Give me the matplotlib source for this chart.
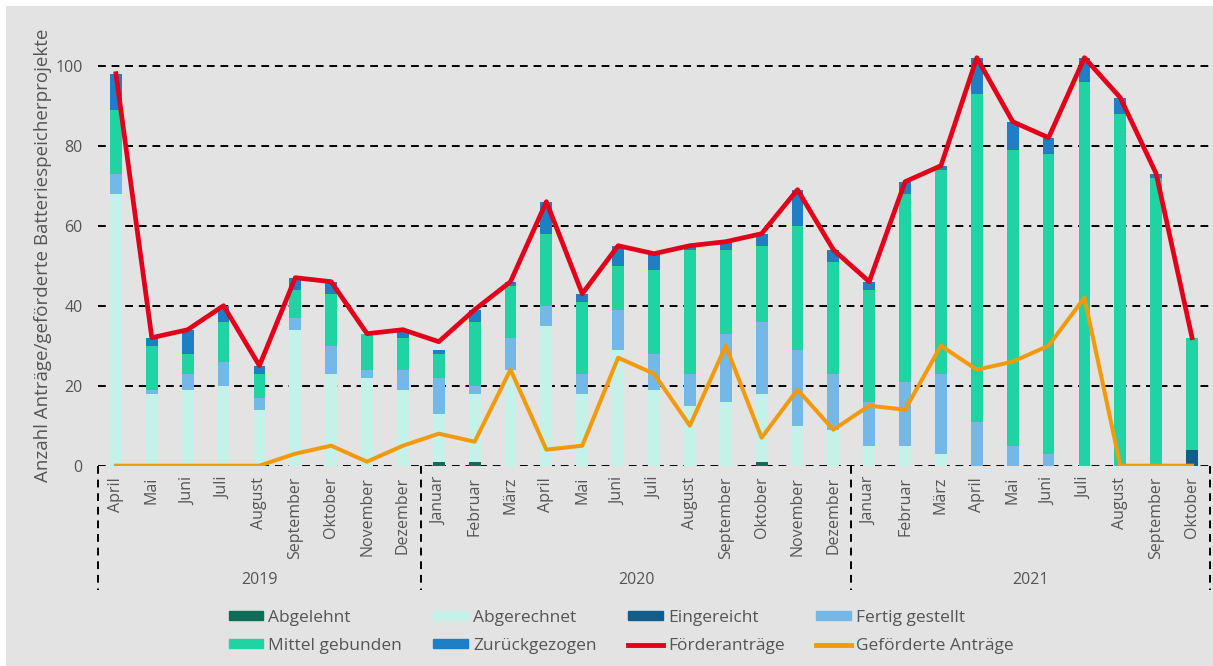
import matplotlib
matplotlib.use("Agg")
import matplotlib.pyplot as plt
from matplotlib.lines import Line2D
from matplotlib.patches import Patch, Rectangle
import numpy as np

plt.rcParams["font.family"] = ["Open Sans", "DejaVu Sans"]

months = ["April", "Mai", "Juni", "Juli", "August", "September", "Oktober", "November", "Dezember",
          "Januar", "Februar", "März", "April", "Mai", "Juni", "Juli", "August", "September",
          "Oktober", "November", "Dezember",
          "Januar", "Februar", "März", "April", "Mai", "Juni", "Juli", "August", "September", "Oktober"]
years = ["2019", "2020", "2021"]
year_counts = [9, 12, 10]

abgelehnt = [0, 0, 0, 0, 0, 0, 0, 0, 0,
             1, 1, 0, 0, 0, 0, 0, 0, 0, 1, 0, 0,
             0, 0, 0, 0, 0, 0, 0, 0, 0, 0]
abgerechnet = [68, 18, 19, 20, 14, 34, 23, 22, 19,
               12, 17, 24, 35, 18, 29, 19, 15, 16, 17, 10, 9,
               5, 5, 3, 0, 0, 0, 0, 0, 0, 0]
eingereicht = [0, 0, 0, 0, 0, 0, 0, 0, 0,
               0, 0, 0, 0, 0, 0, 0, 0, 0, 0, 0, 0,
               0, 0, 0, 0, 0, 0, 0, 0, 0, 4]
fertig_gestellt = [5, 1, 4, 6, 3, 3, 7, 2, 5,
                   9, 2, 8, 5, 5, 10, 9, 8, 17, 18, 19, 14,
                   11, 16, 20, 11, 5, 3, 0, 0, 0, 0]
mittel_gebunden = [16, 11, 5, 10, 6, 7, 13, 9, 8,
                   6, 16, 13, 18, 18, 11, 21, 31, 21, 19, 31, 28,
                   28, 47, 51, 82, 74, 75, 96, 88, 72, 28]
zurueckgezogen = [9, 2, 6, 4, 2, 3, 3, 0, 2,
                  1, 3, 1, 8, 2, 5, 4, 1, 2, 3, 9, 3,
                  2, 3, 1, 9, 7, 4, 6, 4, 1, 0]
foerderantraege = [98, 32, 34, 40, 25, 47, 46, 33, 34,
                   31, 39, 46, 66, 43, 55, 53, 55, 56, 58, 69, 54,
                   46, 71, 75, 102, 86, 82, 102, 92, 73, 32]
gefoerdert = [0, 0, 0, 0, 0, 3, 5, 1, 5,
              8, 6, 24, 4, 5, 27, 23, 10, 30, 7, 19, 9,
              15, 14, 30, 24, 26, 30, 42, 0, 0, 0]

stacks = [
    ("Abgelehnt", abgelehnt, "#0f6d55"),
    ("Abgerechnet", abgerechnet, "#c4f2e8"),
    ("Eingereicht", eingereicht, "#135d8a"),
    ("Fertig gestellt", fertig_gestellt, "#74b8e7"),
    ("Mittel gebunden", mittel_gebunden, "#1fd3a3"),
    ("Zurückgezogen", zurueckgezogen, "#1f7fc5"),
]
red = "#e2001a"
orange = "#f39a0c"
bg = "#e3e3e3"
text_col = "#555555"

W, H = 1213, 666
fig = plt.figure(figsize=(W / 100, H / 100), dpi=100, facecolor="white")
fig.patches.append(Rectangle((6 / W, 0), 1, 1 - 6 / H, transform=fig.transFigure,
                             facecolor=bg, edgecolor="none", zorder=-10))

y0_px, ymax = 465.7, 108
ax = fig.add_axes([98 / W, (H - y0_px) / H, (1210 - 98) / W, ymax * 4 / H])
ax.set_facecolor("none")

x = np.arange(len(months))
bottom = np.zeros(len(months))
for name, vals, col in stacks:
    ax.bar(x, vals, width=0.33, bottom=bottom, color=col, label=name, zorder=2)
    bottom += np.array(vals)

ax.plot(x, foerderantraege, color=red, lw=3.4, zorder=4, solid_joinstyle="round")
ax.plot(x, gefoerdert, color=orange, lw=2.9, zorder=3, solid_joinstyle="round")

ax.set_xlim(-0.5, len(months) - 0.5)
ax.set_ylim(0, ymax)
ax.set_yticks(range(0, 101, 20))
dash = (0, (4, 3))
for v in range(0, 101, 20):
    ax.axhline(v, color="black", lw=1.4, ls=dash, zorder=1)
for s in ax.spines.values():
    s.set_visible(False)
ax.tick_params(axis="y", length=0, pad=11, labelsize=11.5, labelcolor=text_col)
ax.set_xticks(x)
ax.set_xticklabels(months, rotation=90, fontsize=11.5, color=text_col)
ax.tick_params(axis="x", length=0, pad=8)

# year separators and labels below the axis
xt = ax.get_xaxis_transform()
bounds = np.concatenate([[0], np.cumsum(year_counts)]) - 0.5
for b in bounds:
    ax.plot([b, b], [0, -0.288], transform=xt, color="black", lw=1.4, ls=dash, clip_on=False)
for i, yr in enumerate(years):
    ax.text((bounds[i] + bounds[i + 1]) / 2, -0.265, yr, transform=xt, ha="center", va="center",
            fontsize=11.5, color=text_col)

fig.text(43 / W, 1 - 255 / H, "Anzahl Anträge/geförderte Batteriespeicherprojekte", rotation=90,
         ha="center", va="center", fontsize=13.5, color=text_col)

handles = [Patch(color=c) for _, _, c in stacks]
handles += [Line2D([], [], color=red, lw=3.5), Line2D([], [], color=orange, lw=3.5)]
labels = [n for n, _, _ in stacks] + ["Förderanträge", "Geförderte Anträge"]
# legend fills column by column; reorder so rows read left to right
order = [0, 4, 1, 5, 2, 6, 3, 7]
fig.legend([handles[i] for i in order], [labels[i] for i in order], ncol=4, loc="center",
           bbox_to_anchor=(621 / W, 1 - 632 / H), frameon=False, fontsize=12.5,
           handlelength=2.0, handleheight=0.4, handletextpad=0.3,
           columnspacing=1.8, labelspacing=0.7, labelcolor=text_col)

fig.savefig("out.png", dpi=100, facecolor=fig.get_facecolor())
